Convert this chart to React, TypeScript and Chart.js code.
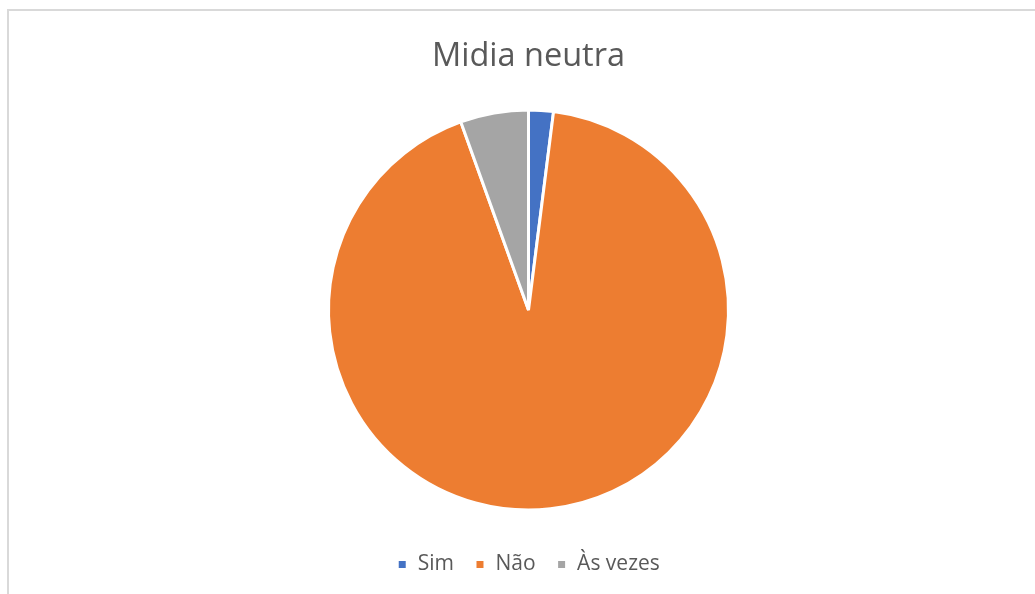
import React, { useEffect, useRef } from "react";
import { Chart, registerables } from "chart.js";

Chart.register(...registerables);

const categories = ["Sim", "Não", "Às vezes"];
const values = [2, 92.5, 5.5];
const colors = ["#4472C4", "#ED7D31", "#A5A5A5"];
const titleText = "Midia neutra";

export default function App() {
  const ref = useRef<HTMLCanvasElement | null>(null);

  useEffect(() => {
    document.body.style.margin = "0";
    document.body.style.overflow = "hidden";
    const chart = new Chart(ref.current!, {
      type: "pie",
      data: {
        labels: categories,
        datasets: [
          {
            data: values,
            backgroundColor: colors,
            borderColor: "#ffffff",
            borderWidth: 3,
            radius: 200,
          },
        ],
      },
      options: {
        animation: false,
        responsive: false,
        layout: { padding: { top: 0, bottom: 9, left: 22, right: 0 } },
        plugins: {
          title: {
            display: true,
            text: titleText,
            color: "#595959",
            font: { family: "'Open Sans', sans-serif", size: 32.5, weight: "normal" },
            padding: { top: 37, bottom: 11 },
          },
          legend: {
            position: "bottom",
            labels: {
              color: "#595959",
              font: { family: "'Open Sans', sans-serif", size: 21 },
              boxWidth: 10,
              boxHeight: 10,
              padding: 21,
            },
          },
          tooltip: { enabled: false },
        },
      },
    });
    return () => chart.destroy();
  }, []);

  return (
    <div style={{ position: "fixed", left: 0, top: 0, width: 1035, height: 594, overflow: "hidden", background: "#fff" }}>
      <div
        style={{
          position: "absolute",
          left: 7,
          top: 9,
          width: 1060,
          height: 620,
          border: "2px solid #d9d9d9",
          boxSizing: "border-box",
        }}
      />
      <canvas ref={ref} width={1035} height={594} style={{ position: "absolute", left: 0, top: 0, width: 1035, height: 594 }} />
    </div>
  );
}
